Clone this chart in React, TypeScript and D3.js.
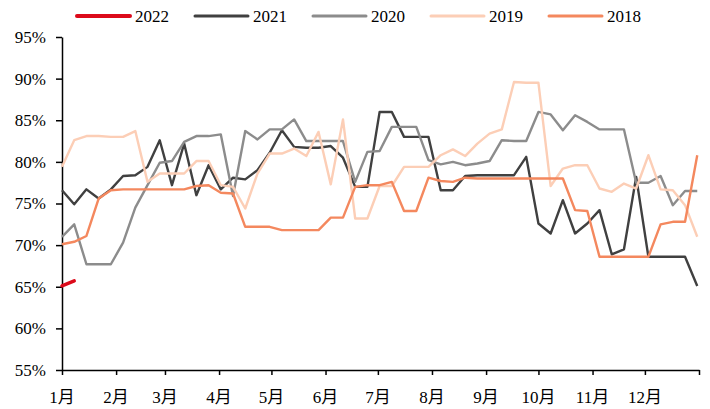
import * as d3 from "d3";
import { useRef, useEffect } from "react";

// Etiquetas del eje X y día del año en que empieza cada mes
const monthLabels = ["1月", "2月", "3月", "4月", "5月", "6月", "7月", "8月", "9月", "10月", "11月", "12月"];
const monthStarts = [0, 31, 59, 90, 120, 151, 181, 212, 243, 273, 304, 334, 365];
const yTicks = [55, 60, 65, 70, 75, 80, 85, 90, 95];

// Series semanales (%)
const s2022 = [65.1, 65.7];
const s2021 = [
  76.6, 74.9, 76.7, 75.6, 76.7, 78.3, 78.4, 79.4, 82.6, 77.2, 82.2,
  76.0, 79.6, 76.7, 78.1, 77.9, 79.0, 81.1, 83.8, 81.8, 81.7,
  81.7, 81.9, 80.5, 77.0, 77.0, 86.0, 86.0, 83.0, 83.0, 83.0,
  76.6, 76.6, 78.3, 78.4, 78.4, 78.4, 78.4, 80.6, 72.6, 71.4,
  75.4, 71.4, 72.6, 74.2, 68.9, 69.5, 78.2, 68.6, 68.6, 68.6, 68.6, 65.1,
];
const s2020 = [
  71.0, 72.5, 67.7, 67.7, 67.7, 70.3, 74.5, 77.2, 79.9, 80.1,
  82.4, 83.1, 83.1, 83.3, 75.9, 83.7, 82.7, 83.9, 83.9, 85.1,
  82.5, 82.5, 82.5, 82.5, 77.6, 81.2, 81.3, 84.2, 84.2, 84.2,
  80.2, 79.7, 80.0, 79.6, 79.8, 80.1, 82.6, 82.5, 82.5, 86.0,
  85.7, 83.8, 85.6, 84.8, 83.9, 83.9, 83.9, 77.5, 77.5, 78.3, 74.8, 76.5, 76.5,
];
const s2019 = [
  79.4, 82.6, 83.1, 83.1, 83.0, 83.0, 83.7, 77.6, 78.6, 78.6,
  78.6, 80.1, 80.1, 77.2, 77.0, 74.4, 78.6, 81.0, 81.0, 81.6,
  80.7, 83.6, 77.3, 85.1, 73.2, 73.2, 77.1, 77.1, 79.4, 79.4,
  79.4, 80.8, 81.5, 80.7, 82.2, 83.4, 83.9, 89.6, 89.5, 89.5,
  77.1, 79.2, 79.6, 79.6, 76.8, 76.4, 77.4, 76.8, 80.8, 76.7, 76.6, 74.8, 71.0,
];
const s2018 = [
  70.1, 70.4, 71.1, 75.6, 76.6, 76.7, 76.7, 76.7, 76.7, 76.7,
  76.7, 77.1, 77.2, 76.3, 76.2, 72.2, 72.2, 72.2, 71.8, 71.8,
  71.8, 71.8, 73.3, 73.3, 77.0, 77.2, 77.2, 77.6, 74.1, 74.1,
  78.1, 77.7, 77.6, 78.1, 78.0, 78.0, 78.0, 78.0, 78.0, 78.0,
  78.0, 78.0, 74.2, 74.1, 68.6, 68.6, 68.6, 68.6, 68.6, 72.5, 72.8, 72.8, 80.8,
];

const series = [
  { name: "2022", values: s2022, color: "#dc0a1a", width: 3.5 },
  { name: "2021", values: s2021, color: "#404040", width: 2.4 },
  { name: "2020", values: s2020, color: "#8c8c8c", width: 2.4 },
  { name: "2019", values: s2019, color: "#fcceb6", width: 2.4 },
  { name: "2018", values: s2018, color: "#f4885e", width: 2.4 },
];

const FONT = "'Liberation Serif', 'Times New Roman', 'Noto Sans CJK SC', serif";

export default function App() {
  const svgRef = useRef<SVGSVGElement | null>(null);

  useEffect(() => {
    if (!svgRef.current) return;
    const svg = d3.select(svgRef.current);
    svg.selectAll("*").remove();

    const x = d3.scaleLinear().domain([0, 365]).range([62, 699]);
    const y = d3.scaleLinear().domain([55, 95]).range([370, 37]);

    // Ejes
    const yAxis = svg
      .append("g")
      .attr("transform", "translate(62,0)")
      .call(
        d3
          .axisLeft(y)
          .tickValues(yTicks)
          .tickFormat((d) => `${d}%`)
          .tickSize(6)
          .tickSizeOuter(0)
      );
    yAxis.selectAll("text").attr("font-size", 17).attr("font-family", FONT).attr("fill", "#000").attr("x", -16);
    yAxis.selectAll("line,path").attr("stroke", "#000").attr("stroke-width", 1.5);

    const xAxis = svg
      .append("g")
      .attr("transform", "translate(0,370)")
      .call(d3.axisBottom(x).tickValues(monthStarts).tickFormat(() => "").tickSize(5).tickSizeOuter(0));
    xAxis.selectAll("line,path").attr("stroke", "#000").attr("stroke-width", 1.5);

    svg
      .append("g")
      .selectAll("text")
      .data(monthLabels)
      .join("text")
      .attr("x", (_, i) => x(monthStarts[i]))
      .attr("y", 403)
      .attr("text-anchor", "middle")
      .attr("font-size", 17)
      .attr("font-family", FONT)
      .text((d) => d);

    // Líneas
    const line = d3
      .line<number>()
      .x((_, i) => x(i * 7))
      .y((d) => y(d));

    svg
      .append("g")
      .selectAll("path")
      .data(series)
      .join("path")
      .attr("d", (d) => line(d.values))
      .attr("fill", "none")
      .attr("stroke", (d) => d.color)
      .attr("stroke-width", (d) => d.width)
      .attr("stroke-linejoin", "round")
      .attr("stroke-linecap", (d) => (d.name === "2022" ? "round" : "butt"));

    // Leyenda
    const legend = svg
      .append("g")
      .selectAll("g")
      .data(series)
      .join("g")
      .attr("transform", (_, i) => `translate(${77 + i * 118},16)`);
    legend
      .append("line")
      .attr("x1", 0)
      .attr("x2", 53)
      .attr("stroke", (d) => d.color)
      .attr("stroke-width", (d) => (d.name === "2022" ? 4 : 3))
      .attr("stroke-linecap", "round");
    legend
      .append("text")
      .attr("x", 58)
      .attr("y", 6)
      .attr("font-size", 17)
      .attr("font-family", FONT)
      .text((d) => d.name);
  }, []);

  return (
    <svg
      ref={svgRef}
      width={710}
      height={409}
      style={{ position: "absolute", left: 0, top: 0, background: "#fff" }}
    ></svg>
  );
}
